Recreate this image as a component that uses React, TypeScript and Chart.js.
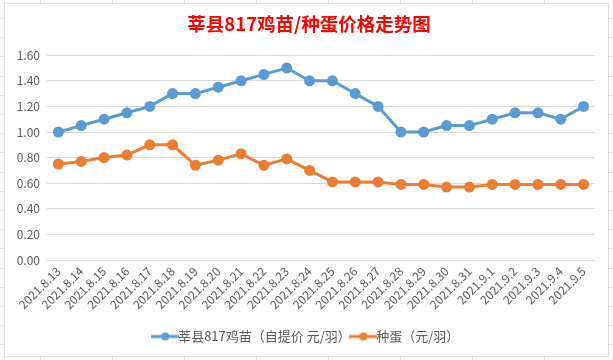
import React, { useEffect, useRef } from "react";
import { Chart, registerables } from "chart.js";

Chart.register(...registerables);

const categories = [
  "2021.8.13", "2021.8.14", "2021.8.15", "2021.8.16", "2021.8.17", "2021.8.18",
  "2021.8.19", "2021.8.20", "2021.8.21", "2021.8.22", "2021.8.23", "2021.8.24",
  "2021.8.25", "2021.8.26", "2021.8.27", "2021.8.28", "2021.8.29", "2021.8.30",
  "2021.8.31", "2021.9.1", "2021.9.2", "2021.9.3", "2021.9.4", "2021.9.5",
];

const chickPrice = [
  1.0, 1.05, 1.1, 1.15, 1.2, 1.3, 1.3, 1.35, 1.4, 1.45, 1.5, 1.4,
  1.4, 1.3, 1.2, 1.0, 1.0, 1.05, 1.05, 1.1, 1.15, 1.15, 1.1, 1.2,
];

const eggPrice = [
  0.75, 0.77, 0.8, 0.82, 0.9, 0.9, 0.74, 0.78, 0.83, 0.74, 0.79, 0.7,
  0.61, 0.61, 0.61, 0.59, 0.59, 0.57, 0.57, 0.59, 0.59, 0.59, 0.59, 0.59,
];

const seriesNames = ["莘县817鸡苗（自提价 元/羽）", "种蛋（元/羽）"];
const seriesColors = ["#5B9BD5", "#ED7D31"];
const titleText = "莘县817鸡苗/种蛋价格走势图";

function legendIcon(color: string) {
  const c = document.createElement("canvas");
  c.width = 28;
  c.height = 10;
  const ctx = c.getContext("2d")!;
  ctx.strokeStyle = color;
  ctx.lineWidth = 3;
  ctx.beginPath();
  ctx.moveTo(0, 5);
  ctx.lineTo(28, 5);
  ctx.stroke();
  ctx.fillStyle = color;
  ctx.beginPath();
  ctx.arc(14, 5, 4, 0, Math.PI * 2);
  ctx.fill();
  return c;
}

const shiftBoxes = {
  id: "shiftBoxes",
  afterLayout(chart: any) {
    const dx = 9;
    for (const box of [chart.legend, chart.titleBlock]) {
      if (!box) continue;
      box.left += dx;
      box.right += dx;
      if (box.legendHitBoxes) box.legendHitBoxes.forEach((h: any) => (h.left += dx));
    }
  },
};

export default function App() {
  const ref = useRef<HTMLCanvasElement>(null);

  useEffect(() => {
    document.body.style.margin = "0";
    const icons = seriesColors.map(legendIcon);
    const chart = new Chart(ref.current!, {
      type: "line",
      data: {
        labels: categories,
        datasets: [chickPrice, eggPrice].map((d, i) => ({
          label: seriesNames[i],
          data: d,
          borderColor: seriesColors[i],
          backgroundColor: seriesColors[i],
          borderWidth: 3,
          pointRadius: 4,
          pointBackgroundColor: seriesColors[i],
          pointBorderColor: seriesColors[i],
          tension: 0,
        })),
      },
      plugins: [shiftBoxes],
      options: {
        animation: false,
        responsive: false,
        layout: { padding: { left: 0, right: 13, top: 0, bottom: 3 } },
        plugins: {
          title: {
            display: true,
            text: titleText,
            color: "#FF0000",
            font: { family: "'Noto Sans CJK SC', sans-serif", size: 18.5, weight: "bold" },
            padding: { top: 9, bottom: 20 },
          },
          legend: {
            position: "bottom",
            labels: {
              usePointStyle: true,
              color: "#595959",
              font: { family: "'Noto Sans CJK SC', sans-serif", size: 13 },
              padding: 6,
              generateLabels: (ch: any) =>
                ch.data.datasets.map((ds: any, i: number) => ({
                  text: ds.label,
                  fillStyle: seriesColors[i],
                  strokeStyle: seriesColors[i],
                  pointStyle: icons[i],
                  fontColor: "#595959",
                  datasetIndex: i,
                  hidden: false,
                  lineWidth: 0,
                })),
            },
          },
          tooltip: { enabled: false },
        },
        scales: {
          x: {
            offset: true,
            grid: { display: false, drawTicks: false },
            border: { display: false },
            ticks: {
              color: "#595959",
              font: { family: "'Noto Sans CJK SC', sans-serif", size: 12 },
              minRotation: 45,
              maxRotation: 45,
              autoSkip: false,
              padding: 4,
            },
            afterFit: (s: any) => {
              s.height = 64;
            },
          },
          y: {
            min: 0,
            max: 1.6,
            grid: { color: "#D9D9D9", drawTicks: false, lineWidth: 1 },
            border: { display: false },
            ticks: {
              stepSize: 0.2,
              color: "#595959",
              padding: 7,
              font: { family: "'Noto Sans CJK SC', sans-serif", size: 12 },
              callback: (v: any) => Number(v).toFixed(2),
            },
            afterFit: (s: any) => {
              s.width = 42;
            },
          },
        },
      },
    });
    return () => chart.destroy();
  }, []);

  const gridBg =
    "repeating-linear-gradient(to right, transparent 0 40px, #E3E3E3 40px 41px, transparent 41px 72px)," +
    "repeating-linear-gradient(to bottom, transparent 0 18px, #E3E3E3 18px 19px, transparent 19px 19.2px)";

  return (
    <div
      style={{
        position: "fixed",
        left: 0,
        top: 0,
        width: 613,
        height: 360,
        background: "#FFFFFF",
        backgroundImage: gridBg,
        overflow: "hidden",
      }}
    >
      <div
        style={{
          position: "absolute",
          left: 4,
          top: 3,
          width: 603,
          height: 352,
          border: "1px solid #D9D9D9",
          background: "#FFFFFF",
        }}
      >
        <canvas ref={ref} width={603} height={352} style={{ display: "block" }} />
      </div>
    </div>
  );
}
